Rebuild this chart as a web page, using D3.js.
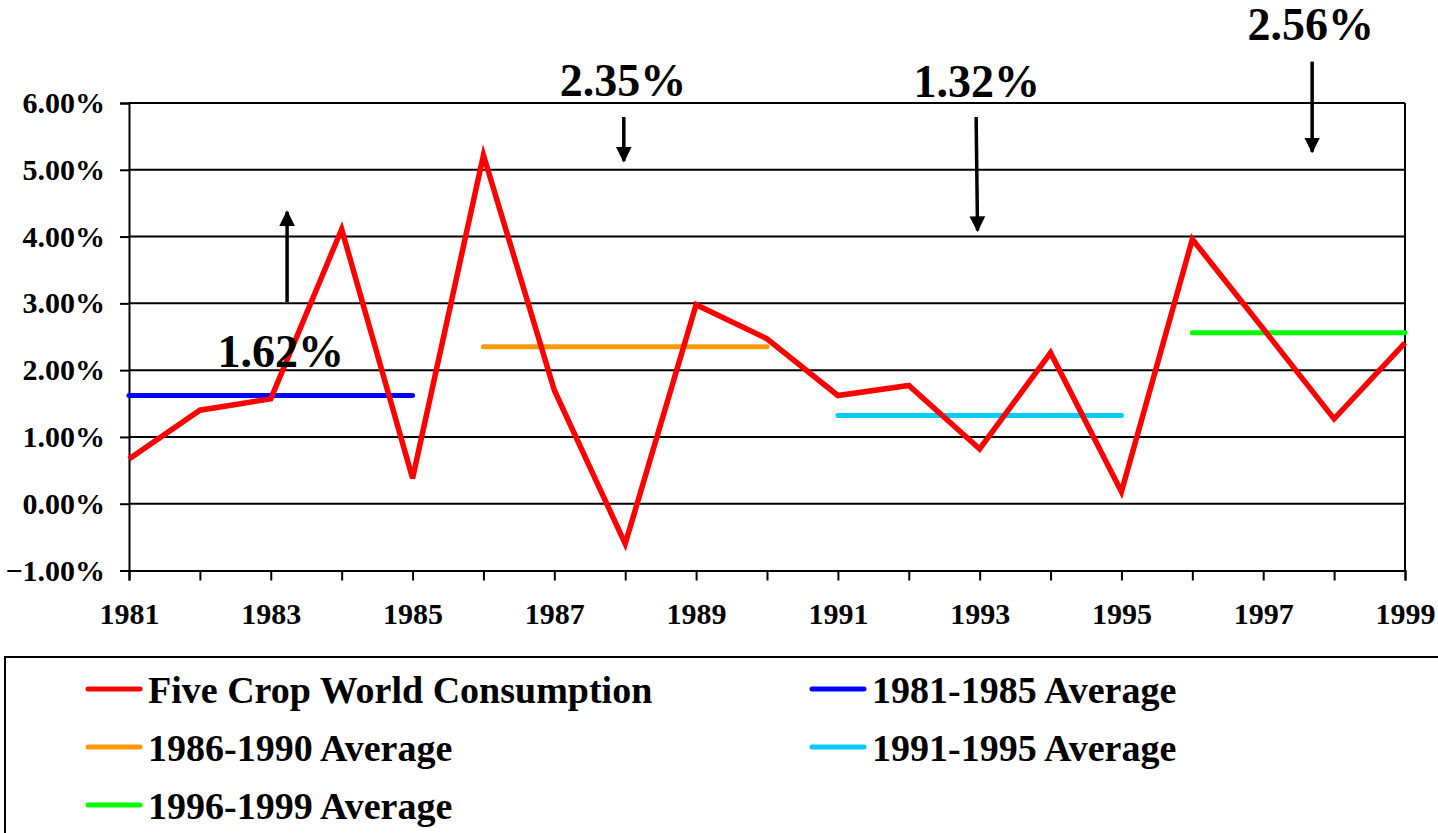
<!DOCTYPE html>
<html>
<head>
<meta charset="utf-8">
<script src="https://d3js.org/d3.v7.min.js"></script>
<style>
  body { margin: 0; background: #fff; }
</style>
</head>
<body>
<div id="chart"></div>
<script>
(function () {

  // data
  var years = [1981, 1982, 1983, 1984, 1985, 1986, 1987, 1988, 1989, 1990,
               1991, 1992, 1993, 1994, 1995, 1996, 1997, 1998, 1999]
  var consumption = [0.67, 1.40, 1.57, 4.11, 0.38, 5.22, 1.70, -0.60, 2.98, 2.47,
                     1.62, 1.77, 0.82, 2.26, 0.18, 3.96, 2.62, 1.27, 2.41]

  // period averages
  var avgNames = ['1981-1985 Average', '1986-1990 Average', '1991-1995 Average', '1996-1999 Average']
  var avgStart = [1981, 1986, 1991, 1996]
  var avgEnd = [1985, 1990, 1995, 1999]
  var avgValues = [1.62, 2.35, 1.32, 2.56]
  var avgColors = ['#0000ff', '#ff9900', '#00ccff', '#00ff00']

  // annotations: label text, year/value of label, arrow from -> to
  var noteText = ['1.62%', '2.35%', '1.32%', '2.56%']
  var noteYear = [1983.14, 1987.97, 1992.96, 1997.67]
  var noteValue = [2.05, 6.11, 6.09, 6.94]
  var arrowYear = [[1983.23, 1983.23], [1987.98, 1987.98], [1992.95, 1992.97], [1997.69, 1997.69]]
  var arrowValue = [[3.02, 4.37], [5.79, 5.13], [5.79, 4.09], [6.62, 5.27]]

  var yTicks = [-1, 0, 1, 2, 3, 4, 5, 6]

  var width = 1438, height = 833
  var font = "'Liberation Serif', 'Times New Roman', Times, serif"

  var svg = d3.select("#chart").append("svg")
      .attr("width", width)
      .attr("height", height)
      .attr("font-family", font)
      .attr("font-weight", "bold")

  // scales
  var xScale = d3.scaleLinear().domain([1981, 1999]).range([129, 1405])
  var yScale = d3.scaleLinear().domain([-1, 6]).range([570.5, 103])

  // arrow head
  svg.append("defs").append("marker")
    .attr("id", "head")
    .attr("viewBox", "0 0 10 10")
    .attr("refX", 9)
    .attr("refY", 5)
    .attr("markerWidth", 4.5)
    .attr("markerHeight", 4.5)
    .attr("orient", "auto")
    .append("path")
    .attr("d", "M0,0 L10,5 L0,10 z")
    .attr("fill", "#000")

  // gridlines
  svg.append("g")
    .selectAll("line")
    .data(yTicks.filter(d => d > -1))
    .join("line")
    .attr("x1", xScale(1981))
    .attr("x2", xScale(1999))
    .attr("y1", d => yScale(d))
    .attr("y2", d => yScale(d))
    .attr("stroke", "#000")
    .attr("stroke-width", 2)

  // right border
  svg.append("line")
    .attr("x1", xScale(1999)).attr("x2", xScale(1999))
    .attr("y1", yScale(6)).attr("y2", yScale(-1))
    .attr("stroke", "#000")
    .attr("stroke-width", 2)

  // y axis
  var yAxis = d3.axisLeft(yScale)
    .tickValues(yTicks)
    .tickSize(9)
    .tickPadding(15)
    .tickFormat(d => d3.format(".2%")(d / 100))
  var yg = svg.append("g")
    .attr("transform", "translate(" + xScale(1981) + ",0)")
    .call(yAxis)
  yg.selectAll("path, line").attr("stroke", "#000").attr("stroke-width", 2)
  yg.selectAll("text").attr("font-size", 30).attr("fill", "#000")
    .attr("font-family", font).attr("font-weight", "bold")

  // x axis
  var xAxis = d3.axisBottom(xScale)
    .tickValues(years)
    .tickSize(10)
    .tickPadding(22)
    .tickFormat(d => d % 2 == 1 ? d : "")
  var xg = svg.append("g")
    .attr("transform", "translate(0," + yScale(-1) + ")")
    .call(xAxis)
  xg.selectAll("path, line").attr("stroke", "#000").attr("stroke-width", 2)
  xg.selectAll("text").attr("font-size", 30).attr("fill", "#000")
    .attr("font-family", font).attr("font-weight", "bold")

  // average lines
  svg.append("g")
    .selectAll("line")
    .data(avgValues)
    .join("line")
    .attr("x1", (d, i) => xScale(avgStart[i]))
    .attr("x2", (d, i) => xScale(avgEnd[i]))
    .attr("y1", d => yScale(d))
    .attr("y2", d => yScale(d))
    .attr("stroke", (d, i) => avgColors[i])
    .attr("stroke-width", 5)
    .attr("stroke-linecap", "round")

  // consumption line
  var line = d3.line()
    .x((d, i) => xScale(years[i]))
    .y(d => yScale(d))
  svg.append("path")
    .datum(consumption)
    .attr("d", line)
    .attr("fill", "none")
    .attr("stroke", "#ff0000")
    .attr("stroke-width", 5.5)
    .attr("stroke-linejoin", "miter")

  // annotation labels
  svg.append("g")
    .selectAll("text")
    .data(noteText)
    .join("text")
    .attr("x", (d, i) => xScale(noteYear[i]))
    .attr("y", (d, i) => yScale(noteValue[i]))
    .attr("text-anchor", "middle")
    .attr("font-size", 46)
    .text(d => d)

  // annotation arrows
  svg.append("g")
    .selectAll("line")
    .data(arrowYear)
    .join("line")
    .attr("x1", d => xScale(d[0]))
    .attr("x2", d => xScale(d[1]))
    .attr("y1", (d, i) => yScale(arrowValue[i][0]))
    .attr("y2", (d, i) => yScale(arrowValue[i][1]))
    .attr("stroke", "#000")
    .attr("stroke-width", 3.5)
    .attr("marker-end", "url(#head)")

  // legend
  var legendNames = ['Five Crop World Consumption'].concat(avgNames)
  var legendColors = ['#ff0000'].concat(avgColors)

  svg.append("rect")
    .attr("x", 5)
    .attr("y", 657)
    .attr("width", 1450)
    .attr("height", 200)
    .attr("fill", "none")
    .attr("stroke", "#000")
    .attr("stroke-width", 2)

  var items = svg.append("g")
    .selectAll("g")
    .data(legendNames)
    .join("g")
    .attr("transform", (d, i) => "translate(" + (i % 2 == 0 ? 88 : 812) + "," + (689 + Math.floor(i / 2) * 58) + ")")

  items.append("line")
    .attr("x1", 0)
    .attr("x2", 52)
    .attr("stroke", (d, i) => legendColors[i])
    .attr("stroke-width", 5)
    .attr("stroke-linecap", "round")

  items.append("text")
    .attr("x", 60)
    .attr("y", 14)
    .attr("font-size", 38)
    .text(d => d)

})();
</script>
</body>
</html>
